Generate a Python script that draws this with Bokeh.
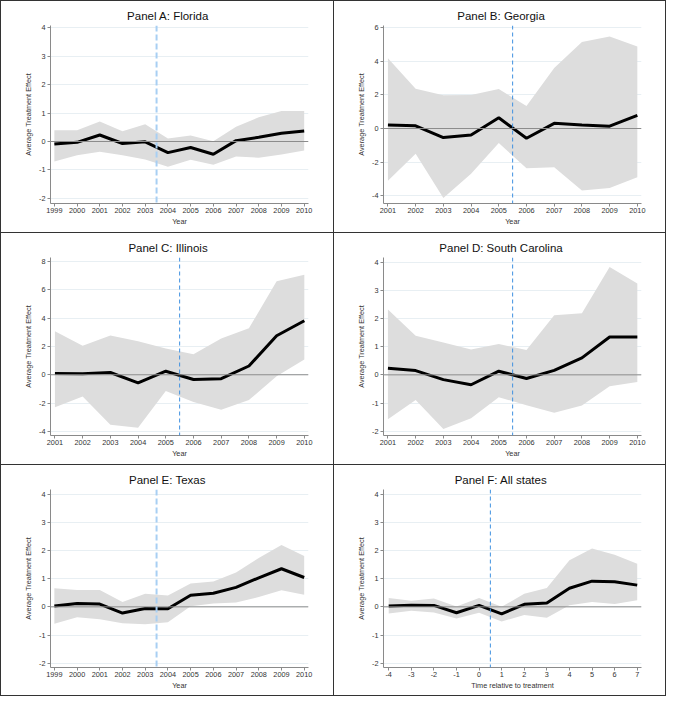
from bokeh.plotting import figure
from bokeh.layouts import gridplot
from bokeh.models import Span, FixedTicker, Range1d
from bokeh.embed import file_html
from bokeh.resources import INLINE

# x values
years_99 = list(range(1999, 2011))
years_01 = list(range(2001, 2011))
rel_time = list(range(-4, 8))

# Panel A: Florida
fl_est = [-0.09, -0.03, 0.23, -0.07, -0.01, -0.39, -0.21, -0.45, 0.03, 0.15, 0.29, 0.37]
fl_hi = [0.40, 0.40, 0.70, 0.36, 0.61, 0.11, 0.21, 0.01, 0.52, 0.85, 1.07, 1.07]
fl_lo = [-0.70, -0.48, -0.36, -0.48, -0.63, -0.89, -0.64, -0.82, -0.53, -0.57, -0.46, -0.32]

# Panel B: Georgia
ga_est = [0.21, 0.16, -0.54, -0.39, 0.64, -0.58, 0.31, 0.21, 0.14, 0.78]
ga_hi = [4.19, 2.37, 1.98, 2.00, 2.35, 1.34, 3.61, 5.15, 5.48, 4.89]
ga_lo = [-3.11, -1.51, -4.14, -2.70, -0.87, -2.37, -2.31, -3.69, -3.55, -2.91]

# Panel C: Illinois
il_est = [0.09, 0.07, 0.16, -0.57, 0.25, -0.34, -0.28, 0.62, 2.76, 3.82]
il_hi = [3.08, 2.05, 2.78, 2.37, 1.86, 1.45, 2.57, 3.29, 6.62, 7.08]
il_lo = [-2.30, -1.54, -3.54, -3.75, -1.15, -1.93, -2.48, -1.79, -0.11, 1.08]

# Panel D: South Carolina
sc_est = [0.23, 0.15, -0.17, -0.35, 0.13, -0.13, 0.16, 0.60, 1.34, 1.34]
sc_hi = [2.32, 1.39, 1.15, 0.90, 1.09, 0.88, 2.11, 2.18, 3.82, 3.24]
sc_lo = [-1.57, -0.89, -1.92, -1.54, -0.79, -1.08, -1.34, -1.09, -0.40, -0.25]

# Panel E: Texas
tx_est = [0.03, 0.12, 0.10, -0.22, -0.06, -0.07, 0.41, 0.48, 0.69, 1.03, 1.35, 1.04]
tx_hi = [0.66, 0.60, 0.60, 0.17, 0.46, 0.40, 0.83, 0.90, 1.22, 1.73, 2.19, 1.80]
tx_lo = [-0.60, -0.37, -0.44, -0.58, -0.62, -0.55, 0.02, 0.12, 0.15, 0.35, 0.59, 0.43]

# Panel F: All states
all_est = [0.03, 0.06, 0.05, -0.21, 0.05, -0.25, 0.09, 0.14, 0.66, 0.91, 0.89, 0.77]
all_hi = [0.31, 0.22, 0.30, 0.01, 0.31, 0.00, 0.46, 0.67, 1.65, 2.07, 1.85, 1.53]
all_lo = [-0.24, -0.14, -0.20, -0.41, -0.21, -0.52, -0.29, -0.39, 0.06, 0.17, 0.10, 0.23]

ticks_small = [-2, -1, 0, 1, 2, 3, 4]
ticks_ga = [-4, -2, 0, 2, 4, 6]
ticks_il = [-4, -2, 0, 2, 4, 6, 8]

FONT = "Liberation Sans"
TITLE_SIZE = 11.5
W, H = 333, 232
LEFT, RIGHT, TOP, BOTTOM = 49, 26, 24, 30

# rough Arial advance widths (em) to center titles on the whole panel
CHAR_W = {"P": .667, "a": .556, "n": .556, "e": .556, "l": .222, " ": .278, "A": .667,
          "B": .667, "C": .722, "D": .722, "E": .667, "F": .611, "G": .778, "I": .278,
          "S": .667, "T": .611, ":": .278, "o": .556, "r": .333, "i": .222, "d": .556,
          "g": .556, "u": .556, "t": .278, "h": .556, "s": .5, "x": .5}


def text_width(s, size):
    return sum(CHAR_W.get(c, .556) for c in s) * size


def make_panel(title, x, est, lo, hi, treat, yticks, yr, xr, xlabel, light, borders):
    p = figure(width=W, height=H, output_backend="svg", toolbar_location=None,
               x_range=Range1d(*xr), y_range=Range1d(*yr),
               min_border_left=LEFT, min_border_right=RIGHT,
               min_border_top=TOP, min_border_bottom=BOTTOM)
    p.outline_line_color = None
    p.background_fill_color = "white"
    p.border_fill_color = "white"
    p.styles = {f"border-{side}": "1px solid #333" for side in borders}

    p.title.text = title
    p.title.align = "left"
    p.title.offset = W / 2 - LEFT - text_width(title, TITLE_SIZE) / 2
    p.title.text_font = FONT
    p.title.text_font_size = f"{TITLE_SIZE}px"
    p.title.text_font_style = "normal"
    p.title.text_color = "#111111"
    p.title.standoff = 8

    p.varea(x=x, y1=lo, y2=hi, fill_color="#dddddd")
    p.add_layout(Span(location=0, dimension="width", line_color="#8c8c8c", line_width=1))
    p.line(x, est, line_color="black", line_width=3)
    if light:
        p.add_layout(Span(location=treat, dimension="height", line_color="#a8cff3",
                          line_width=2, line_dash="6 3"))
    else:
        p.add_layout(Span(location=treat, dimension="height", line_color="#3f91e0",
                          line_width=1, line_dash="4 3"))

    p.xaxis.ticker = FixedTicker(ticks=x)
    p.yaxis.ticker = FixedTicker(ticks=yticks)
    # plain hyphen for negatives, as in the original
    p.xaxis.major_label_overrides = {v: str(v) for v in x}
    p.yaxis.major_label_overrides = {v: str(v) for v in yticks}
    p.xgrid.visible = False
    p.ygrid.ticker = FixedTicker(ticks=yticks)
    p.ygrid.grid_line_color = "#e8eff3"

    for ax in (p.xaxis, p.yaxis):
        ax.axis_line_color = "#8a8a8a"
        ax.major_tick_line_color = "#8a8a8a"
        ax.minor_tick_line_color = None
        ax.major_tick_out = 3
        ax.major_tick_in = 0
        ax.major_label_text_font = FONT
        ax.major_label_text_font_size = "7.3px"
        ax.major_label_text_color = "#333333"
        ax.axis_label_text_font = FONT
        ax.axis_label_text_font_size = "7.3px"
        ax.axis_label_text_font_style = "normal"
        ax.axis_label_text_color = "#333333"
    p.xaxis.axis_label = xlabel
    p.xaxis.major_label_standoff = 1
    p.xaxis.axis_label_standoff = 1
    p.yaxis.axis_label = "Average Treatment Effect"
    p.yaxis.major_label_standoff = 2
    p.yaxis.axis_label_standoff = 3
    p.yaxis.major_label_orientation = "horizontal"
    return p


pa = make_panel("Panel A: Florida", years_99, fl_est, fl_lo, fl_hi, 2003.5,
                ticks_small, (-2.18, 4.08), (1998.83, 2010.19), "Year", True,
                ["left", "top"])
pb = make_panel("Panel B: Georgia", years_01, ga_est, ga_lo, ga_hi, 2005.5,
                ticks_ga, (-4.47, 6.14), (2000.84, 2010.15), "Year", False,
                ["left", "top", "right"])
pc = make_panel("Panel C: Illinois", years_01, il_est, il_lo, il_hi, 2005.5,
                ticks_il, (-4.3, 8.3), (2000.84, 2010.15), "Year", False,
                ["left", "top"])
pd = make_panel("Panel D: South Carolina", years_01, sc_est, sc_lo, sc_hi, 2005.5,
                ticks_small, (-2.15, 4.16), (2000.84, 2010.15), "Year", False,
                ["left", "top", "right"])
pe = make_panel("Panel E: Texas", years_99, tx_est, tx_lo, tx_hi, 2003.5,
                ticks_small, (-2.15, 4.16), (1998.83, 2010.19), "Year", True,
                ["left", "top", "bottom"])
pf = make_panel("Panel F: All states", rel_time, all_est, all_lo, all_hi, 0.5,
                ticks_small, (-2.15, 4.16), (-4.23, 7.19), "Time relative to treatment", False,
                ["left", "top", "right", "bottom"])

grid = gridplot([[pa, pb], [pc, pd], [pe, pf]], toolbar_location=None)

open("out.html", "w").write(file_html(grid, INLINE))
